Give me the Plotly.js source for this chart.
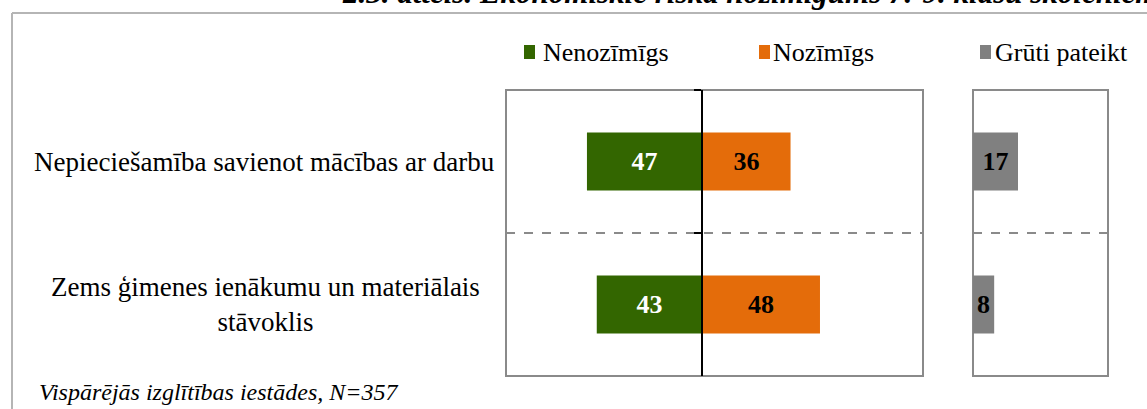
<!DOCTYPE html>
<html>
<head>
<meta charset="utf-8">
<script src="https://cdn.plot.ly/plotly-3.0.1.min.js"></script>
<style>
  html, body { margin: 0; padding: 0; background: #fff; }
  #chart { width: 1147px; height: 409px; }
</style>
</head>
<body>
<div id="chart"></div>
<script>
// ---- data ----
const categories = [
  "Nepieciešamība savienot mācības ar darbu",
  "Zems ģimenes ienākumu un materiālais stāvoklis"
];
const categoryLabels = [
  "Nepieciešamība savienot mācības ar darbu",
  "Zems ģimenes ienākumu un materiālais<br>stāvoklis"
];
const seriesNames = ["Nenozīmīgs", "Nozīmīgs", "Grūti pateikt"];
const nenozimigs = [47, 43];
const nozimigs = [36, 48];
const grutiPateikt = [17, 8];
const chartTitle = "2.3. attēls. Ekonomiskie riska nozīmīgums 7.-9. klašu skolēniem";
const sourceNote = "Vispārējās izglītības iestādes, N=357";

// ---- style ----
const W = 1147, H = 409;
const FONT = "Liberation Serif, Times New Roman, serif";
const colors = ["#336600", "#E46C0A", "#808080"];
const px = v => v / W;
const py = v => (H - v) / H;

const barWidth = 0.405;

const traces = [
  {
    type: "bar", orientation: "h", name: seriesNames[0],
    y: categories, x: nenozimigs.map(v => -v),
    text: nenozimigs.map(String), textposition: "inside", insidetextanchor: "middle",
    textangle: 0, constraintext: "none",
    textfont: { family: FONT, size: 26, color: "#ffffff", weight: "bold" },
    marker: { color: colors[0], line: { width: 0 } },
    width: barWidth, xaxis: "x", yaxis: "y", showlegend: false, hoverinfo: "skip"
  },
  {
    type: "bar", orientation: "h", name: seriesNames[1],
    y: categories, x: nozimigs,
    text: nozimigs.map(String), textposition: "inside", insidetextanchor: "middle",
    textangle: 0, constraintext: "none",
    textfont: { family: FONT, size: 26, color: "#000000", weight: "bold" },
    marker: { color: colors[1], line: { width: 0 } },
    width: barWidth, xaxis: "x", yaxis: "y", showlegend: false, hoverinfo: "skip"
  },
  {
    type: "bar", orientation: "h", name: seriesNames[2],
    y: categories, x: grutiPateikt,
    text: grutiPateikt.map(String), textposition: "inside", insidetextanchor: "middle",
    textangle: 0, constraintext: "none",
    textfont: { family: FONT, size: 26, color: "#000000", weight: "bold" },
    marker: { color: colors[2], line: { width: 0 } },
    width: barWidth, xaxis: "x2", yaxis: "y", showlegend: false, hoverinfo: "skip"
  }
];

const xDom1 = [px(506), px(923)];
const xDom2 = [px(973), px(1108)];
const yDom = [py(376), py(90)];
const zeroPos = xDom1[0] + (80 / 170) * (xDom1[1] - xDom1[0]);

const annotations = [];
// category labels
annotations.push({
  xref: "paper", yref: "y", x: px(497), y: categories[0],
  xanchor: "right", yanchor: "middle", align: "right", showarrow: false,
  text: categoryLabels[0], font: { family: FONT, size: 27, color: "#000" }
});
annotations.push({
  xref: "paper", yref: "y", x: px(482), y: categories[1],
  xanchor: "right", yanchor: "middle", align: "center", showarrow: false,
  text: categoryLabels[1], font: { family: FONT, size: 27, color: "#000" }
});
// legend texts
const legendX = [541, 771, 993];
const legendMarkX = [524, 759, 980];
seriesNames.forEach((n, i) => {
  annotations.push({
    xref: "paper", yref: "paper", x: px(legendX[i]), y: py(52),
    xanchor: "left", yanchor: "middle", showarrow: false,
    text: n, font: { family: FONT, size: 26, color: "#000" }
  });
});
// title (cut off at top, as in the reference)
annotations.push({
  xref: "paper", yref: "paper", x: px(340), y: py(-7),
  xanchor: "left", yanchor: "middle", showarrow: false,
  text: "<b><i>" + chartTitle + "</i></b>", font: { family: FONT, size: 31, color: "#000" }
});
// source note
annotations.push({
  xref: "paper", yref: "paper", x: px(37), y: py(392),
  xanchor: "left", yanchor: "middle", showarrow: false,
  text: "<i>" + sourceNote + "</i>", font: { family: FONT, size: 24, color: "#000" }
});

const shapes = [];
// outer frame (top & left)
shapes.push({ type: "line", xref: "paper", yref: "paper", x0: px(12), x1: 1, y0: py(13), y1: py(13), line: { color: "#b5b5b5", width: 2 } });
shapes.push({ type: "line", xref: "paper", yref: "paper", x0: px(12), x1: px(12), y0: py(13), y1: 0, line: { color: "#b5b5b5", width: 2 } });
// plot frames
shapes.push({ type: "rect", xref: "x domain", yref: "y domain", x0: 0, x1: 1, y0: 0, y1: 1, line: { color: "#8a8a8a", width: 2 }, layer: "below" });
shapes.push({ type: "rect", xref: "x2 domain", yref: "y domain", x0: 0, x1: 1, y0: 0, y1: 1, line: { color: "#8a8a8a", width: 2 }, layer: "below" });
// legend markers
legendMarkX.forEach((x, i) => {
  shapes.push({ type: "rect", xref: "paper", yref: "paper", x0: px(x), x1: px(x + 11), y0: py(45), y1: py(59), fillcolor: colors[i], line: { width: 0 } });
});

const layout = {
  width: W, height: H,
  margin: { l: 0, r: 0, t: 0, b: 0 },
  paper_bgcolor: "#fff", plot_bgcolor: "rgba(0,0,0,0)",
  barmode: "relative",
  showlegend: false,
  font: { family: FONT, size: 26, color: "#000" },
  xaxis: {
    domain: xDom1, range: [-80, 90], showticklabels: false, showgrid: false,
    zeroline: false, showline: false, ticks: "", fixedrange: true
  },
  xaxis2: {
    domain: xDom2, range: [0, 51], anchor: "y", showticklabels: false, showgrid: false,
    zeroline: false, showline: false, ticks: "", fixedrange: true
  },
  yaxis: {
    domain: yDom, type: "category", categoryorder: "array", categoryarray: categories,
    range: [1.5, -0.5], anchor: "free", position: zeroPos,
    showticklabels: false, tickson: "boundaries", ticks: "outside", ticklen: 7,
    tickwidth: 2, tickcolor: "#000", showline: true, linecolor: "#000", linewidth: 2,
    showgrid: true, gridcolor: "#8a8a8a", gridwidth: 1.5, griddash: "dash",
    zeroline: false, fixedrange: true
  },
  annotations: annotations,
  shapes: shapes
};

Plotly.newPlot("chart", traces, layout, { displayModeBar: false, staticPlot: true });
</script>
</body>
</html>
